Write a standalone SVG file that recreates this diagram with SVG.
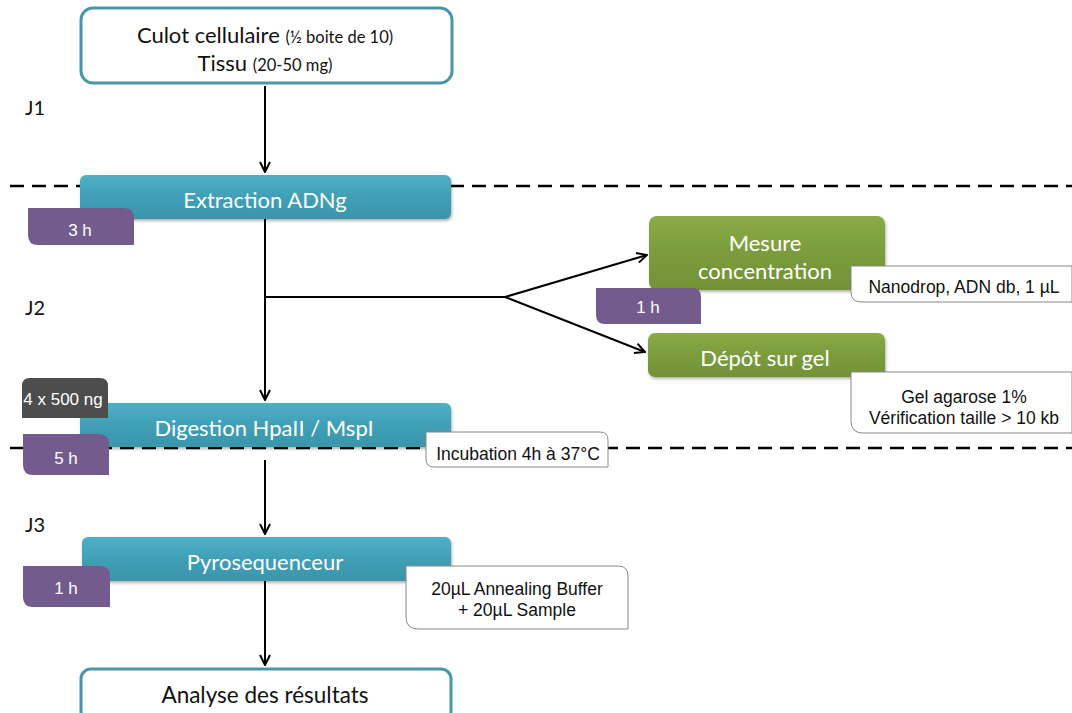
<svg xmlns="http://www.w3.org/2000/svg" width="1072" height="713" viewBox="0 0 1072 713">
<defs>
<linearGradient id="gTeal" x1="0" y1="0" x2="0" y2="1"><stop offset="0" stop-color="#4eb0c6"/><stop offset="0.5" stop-color="#409fb6"/><stop offset="1" stop-color="#3a95ab"/></linearGradient>
<linearGradient id="gGreen" x1="0" y1="0" x2="0" y2="1"><stop offset="0" stop-color="#8aab48"/><stop offset="0.5" stop-color="#7b9c3c"/><stop offset="1" stop-color="#729236"/></linearGradient>
<marker id="arr" viewBox="0 0 12 12" refX="11" refY="6" markerWidth="12" markerHeight="12" markerUnits="userSpaceOnUse" orient="auto"><path d="M1,1 L11,6 L1,11" fill="none" stroke="#000" stroke-width="2"/></marker>
<filter id="sh" x="-5%" y="-10%" width="110%" height="130%"><feDropShadow dx="1" dy="2" stdDeviation="1.5" flood-color="#000" flood-opacity="0.3"/></filter>
</defs>
<style>
.lbl{font-family:Lato,"Open Sans","DejaVu Sans",sans-serif;text-anchor:middle}
.wt{fill:#fff;font-size:22px}
.bk{fill:#111}
.ar{font-family:"Liberation Sans",Arial,sans-serif;text-anchor:middle;fill:#111;font-size:17.5px}
.arw{font-family:"Liberation Sans",Arial,sans-serif;text-anchor:middle;fill:#fff;font-size:17px}
.teal{fill:url(#gTeal);filter:url(#sh)}
.green{fill:url(#gGreen);filter:url(#sh)}
.purple{fill:#735b8e}
.call{fill:#fff;stroke:#888;stroke-width:1}
.wbox{fill:#fff;stroke:#4a95aa;stroke-width:3}
.conn{stroke:#000;stroke-width:2;fill:none}
.dash{stroke:#000;stroke-width:2.5;stroke-dasharray:14 8;fill:none}
.day{font-family:Lato,"Open Sans",sans-serif;font-size:20px;fill:#111}
</style>

<g id="dividers">
<line class="dash" x1="10" y1="186" x2="1072" y2="186"/>
<line class="dash" x1="10" y1="448" x2="1072" y2="448"/>
</g>

<g id="days">
<text class="day" x="25" y="115">J1</text>
<text class="day" x="25" y="315">J2</text>
<text class="day" x="25" y="532">J3</text>
</g>

<g id="connectors">
<line class="conn" x1="265" y1="86" x2="265" y2="172" marker-end="url(#arr)"/>
<line class="conn" x1="265" y1="219" x2="265" y2="400" marker-end="url(#arr)"/>
<polyline class="conn" points="265,297 505,297"/>
<line class="conn" x1="505" y1="297" x2="647" y2="255" marker-end="url(#arr)"/>
<line class="conn" x1="505" y1="297" x2="645" y2="352" marker-end="url(#arr)"/>
<line class="conn" x1="265" y1="460" x2="265" y2="534" marker-end="url(#arr)"/>
<line class="conn" x1="265" y1="581" x2="265" y2="665" marker-end="url(#arr)"/>
</g>

<g id="culot">
<rect class="wbox" x="81" y="8" width="371" height="75" rx="12"/>
<text class="lbl bk" x="265" y="43"><tspan font-size="22">Culot cellulaire </tspan><tspan font-size="16.5">(½ boite de 10)</tspan></text>
<text class="lbl bk" x="265" y="71"><tspan font-size="22">Tissu </tspan><tspan font-size="16.5">(20-50 mg)</tspan></text>
</g>

<g id="extraction">
<rect class="teal" x="80" y="175" width="371" height="44" rx="6"/>
<text class="lbl wt" x="265" y="208">Extraction ADNg</text>
</g>
<g id="t3h">
<path class="purple" d="M28,208 H124 Q134,208 134,218 V245 H38 Q28,245 28,235 Z"/>
<text class="arw" x="80" y="236">3 h</text>
</g>

<g id="mesure">
<rect class="green" x="649" y="216" width="236" height="74" rx="8"/>
<text class="lbl wt" x="765" y="251">Mesure</text>
<text class="lbl wt" x="765" y="279">concentration</text>
</g>
<g id="t1h-a">
<path class="purple" d="M596,288 H692 Q701,288 701,297 V324 H605 Q596,324 596,315 Z"/>
<text class="arw" x="648" y="313">1 h</text>
</g>
<g id="nanodrop">
<path class="call" d="M851,266 H1072 V302 H861 Q851,302 851,292 Z"/>
<text class="ar" x="964" y="293">Nanodrop, ADN db, 1 µL</text>
</g>

<g id="depot">
<rect class="green" x="648" y="333" width="237" height="44" rx="7"/>
<text class="lbl wt" x="765" y="366">Dépôt sur gel</text>
</g>
<g id="gel">
<path class="call" d="M851,372 H1072 V433 H863 Q851,433 851,421 Z"/>
<text class="ar" x="964" y="403">Gel agarose 1%</text>
<text class="ar" x="964" y="424">Vérification taille &gt; 10 kb</text>
</g>

<g id="digestion">
<rect class="teal" x="80" y="403" width="371" height="44" rx="6"/>
<text class="lbl wt" x="264" y="436">Digestion HpaII / MspI</text>
</g>
<g id="t500ng">
<path d="M22,378 H100 Q108,378 108,386 V418 H22 V386 Q22,378 30,378 Z" fill="#4d4d4d"/>
<text class="arw" x="63" y="405" font-size="14.5">4 x 500 ng</text>
</g>
<g id="t5h">
<path class="purple" d="M23,434 H99 Q109,434 109,444 V475 H33 Q23,475 23,465 Z"/>
<text class="arw" x="66" y="464">5 h</text>
</g>
<g id="incubation">
<path class="call" d="M426,432 H600 Q608,432 608,440 V467 H434 Q426,467 426,459 Z"/>
<text class="ar" x="518" y="460">Incubation 4h à 37°C</text>
</g>

<g id="pyro">
<rect class="teal" x="82" y="537" width="369" height="44" rx="6"/>
<text class="lbl wt" x="265" y="570">Pyrosequenceur</text>
</g>
<g id="t1h-b">
<path class="purple" d="M23,566 H100 Q110,566 110,576 V607 H33 Q23,607 23,597 Z"/>
<text class="arw" x="66" y="594">1 h</text>
</g>
<g id="annealing">
<path class="call" d="M406,566 H618 Q628,566 628,576 V629 H418 Q406,629 406,617 Z"/>
<text class="ar" x="517" y="595">20µL Annealing Buffer</text>
<text class="ar" x="517" y="616">+ 20µL Sample</text>
</g>

<g id="analyse">
<rect class="wbox" x="81" y="669" width="370" height="52" rx="10"/>
<text class="lbl bk" x="265" y="703" font-size="22.5">Analyse des résultats</text>
</g>
</svg>
